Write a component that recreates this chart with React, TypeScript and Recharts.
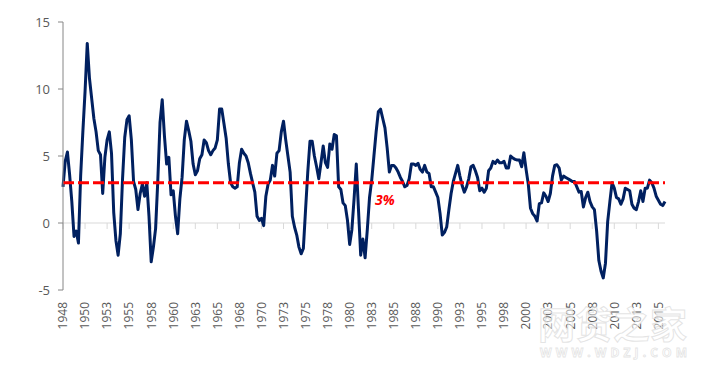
import React from 'react';
import { LineChart, Line, XAxis, YAxis, ReferenceLine, ReferenceDot } from 'recharts';

// US real GDP, % change y/y, quarterly from 1948Q1
const START_YEAR = 1948;
const v1940s = [2.7, 4.6, 5.3, 3.6, 1.6, -1.0, -0.6, -1.5];
const v1950s = [
  3.5, 6.8, 9.8, 13.4,
  10.8, 9.3, 7.8, 6.8,
  5.4, 5.1, 2.2, 4.9,
  6.2, 6.8, 5.2, 0.8,
  -1.3, -2.4, -0.8, 3.3,
  6.4, 7.7, 8.0, 6.2,
  3.1, 2.5, 1.0, 2.2,
  2.9, 2.0, 3.0, 0.5,
  -2.9, -1.8, -0.4, 3.2,
  7.5, 9.2, 6.5, 4.4,
];
const v1960s = [
  4.9, 2.1, 2.4, 0.5,
  -0.8, 1.8, 3.4, 6.2,
  7.6, 6.9, 6.1, 4.4,
  3.6, 3.9, 4.8, 5.1,
  6.2, 6.0, 5.4, 5.1,
  5.4, 5.6, 6.2, 8.5,
  8.5, 7.4, 6.3, 4.4,
  3.0, 2.7, 2.6, 2.7,
  4.5, 5.5, 5.2, 5.0,
  4.5, 3.7, 3.0, 2.3,
];
const v1970s = [
  0.5, 0.2, 0.35, -0.2,
  2.0, 2.9, 3.2, 4.3,
  3.5, 5.2, 5.4, 6.8,
  7.6, 6.2, 5.0, 3.8,
  0.5, -0.3, -0.9, -1.8,
  -2.3, -1.9, 1.0, 3.8,
  6.1, 6.1, 5.0, 4.2,
  3.3, 4.5, 5.75, 4.5,
  4.15, 5.9, 5.5, 6.6,
  6.5, 2.7, 2.5, 1.5,
];
const v1980s = [
  1.3, 0.2, -1.6, -0.5,
  1.8, 4.4, 1.0, -2.4,
  -1.2, -2.6, -0.5, 1.9,
  3.2, 5.0, 6.8, 8.3,
  8.5, 7.8, 7.1, 5.6,
  3.8, 4.3, 4.3, 4.1,
  3.8, 3.4, 3.1, 2.7,
  2.8, 3.3, 4.4, 4.4,
  4.3, 4.45, 4.0, 3.8,
  4.3, 3.8, 3.7, 2.7,
];
const v1990s = [
  2.7, 2.3, 1.9, 0.7,
  -0.9, -0.7, -0.3, 1.0,
  2.2, 3.1, 3.7, 4.3,
  3.5, 2.8, 2.3, 2.7,
  3.3, 4.2, 4.3, 3.9,
  3.4, 2.4, 2.6, 2.3,
  2.6, 3.9, 4.1, 4.6,
  4.45, 4.7, 4.5, 4.5,
  4.6, 4.1, 4.1, 5.0,
  4.85, 4.75, 4.7, 4.7,
];
const v2000s = [
  4.2, 5.25, 4.0, 2.9,
  1.1, 0.7, 0.5, 0.15,
  1.45, 1.5, 2.25, 2.0,
  1.6, 2.2, 3.5, 4.3,
  4.35, 4.1, 3.2, 3.5,
  3.4, 3.3, 3.2, 3.1,
  3.1, 2.7, 2.3, 2.35,
  1.2, 1.9, 2.3, 1.6,
  1.2, 1.0, -0.6, -2.8,
  -3.6, -4.1, -3.0, 0.1,
];
const v2010s = [
  1.6, 3.0, 2.6, 1.9,
  1.8, 1.4, 1.8, 2.6,
  2.5, 2.4, 1.4, 1.1,
  1.0, 1.6, 2.4, 1.6,
  2.6, 2.6, 3.2, 3.0,
  2.6, 2.0, 1.7, 1.4,
  1.3, 1.6,
];

const Y_TICKS = [-5, 0, 5, 10, 15];
const TARGET = 3;
const TARGET_LABEL = '3%';
const TARGET_LABEL_AT = '1984Q3';
const TARGET_LABEL_Y = 1.7;
const TICK_EVERY = 10;

const values = [...v1940s, ...v1950s, ...v1960s, ...v1970s, ...v1980s, ...v1990s, ...v2000s, ...v2010s];
const data = values.map((v, i) => ({
  q: `${START_YEAR + Math.floor(i / 4)}Q${(i % 4) + 1}`,
  v,
}));
const tickCats = data.filter((_, i) => i % TICK_EVERY === 0).map((d) => d.q);

const FONT = '"Open Sans", "Noto Sans", sans-serif';

const XTick = (props: any) => {
  const { x, y, payload } = props;
  return (
    <g transform={`translate(${x},${y})`}>
      <text
        transform="rotate(-90)"
        x={-12}
        y={0}
        dy="0.36em"
        textAnchor="end"
        fill="#595959"
        fontSize={12}
        fontFamily={FONT}
      >
        {String(payload.value).slice(0, 4)}
      </text>
    </g>
  );
};

export default function App() {
  return (
    <div style={{ position: 'relative', width: 710, height: 368 }}>
      <style>{`body{margin:0;}`}</style>
      <LineChart
        width={710}
        height={368}
        data={data}
        margin={{ top: 22, right: 45, bottom: 38, left: 3 }}
      >
        <XAxis
          dataKey="q"
          interval={TICK_EVERY - 1}
          axisLine={false}
          tickLine={false}
          tickSize={0}
          tickMargin={0}
          height={40}
          tick={<XTick />}
        />
        <YAxis
          domain={[-5, 15]}
          ticks={Y_TICKS}
          width={60}
          axisLine={{ stroke: '#868686', strokeWidth: 1 }}
          tickLine={{ stroke: '#868686', strokeWidth: 1 }}
          tickSize={5}
          tickMargin={8}
          tick={{ fill: '#595959', fontSize: 13, fontFamily: FONT }}
        />
        <ReferenceLine y={0} stroke="#d9d9d9" strokeWidth={1} />
        {tickCats.map((c) => (
          <ReferenceLine
            key={c}
            segment={[{ x: c, y: 0 }, { x: c, y: -0.45 }]}
            stroke="#d9d9d9"
            strokeWidth={1}
          />
        ))}
        <Line
          type="linear"
          dataKey="v"
          stroke="#002060"
          strokeWidth={3}
          dot={false}
          strokeLinejoin="round"
          isAnimationActive={false}
        />
        <ReferenceLine y={TARGET} stroke="#FF0000" strokeWidth={3} strokeDasharray="11 4" />
        <ReferenceDot
          x={TARGET_LABEL_AT}
          y={TARGET_LABEL_Y}
          r={0}
          fill="none"
          stroke="none"
          label={{
            value: TARGET_LABEL,
            position: 'center',
            fill: '#FF0000',
            fontSize: 14,
            fontWeight: 'bold',
            fontStyle: 'italic',
            fontFamily: FONT,
          }}
        />
      </LineChart>
      <svg
        width={710}
        height={368}
        style={{ position: 'absolute', left: 0, top: 0, pointerEvents: 'none' }}
      >
        <text
          x={538}
          y={339}
          fontSize={37}
          fontWeight="bold"
          fontFamily='"Noto Sans CJK SC", sans-serif'
          fill="#ffffff"
          fillOpacity={0.5}
          stroke="#dddddd"
          strokeOpacity={0.8}
          strokeWidth={1}
          textLength={149}
          lengthAdjust="spacing"
        >
          网贷之家
        </text>
        <text
          x={540}
          y={357}
          fontSize={12}
          fontWeight="bold"
          fontFamily={FONT}
          fill="#ffffff"
          fillOpacity={0.5}
          stroke="#dddddd"
          strokeOpacity={0.8}
          strokeWidth={0.8}
          textLength={147}
          lengthAdjust="spacing"
        >
          WWW.WDZJ.COM
        </text>
      </svg>
    </div>
  );
}
